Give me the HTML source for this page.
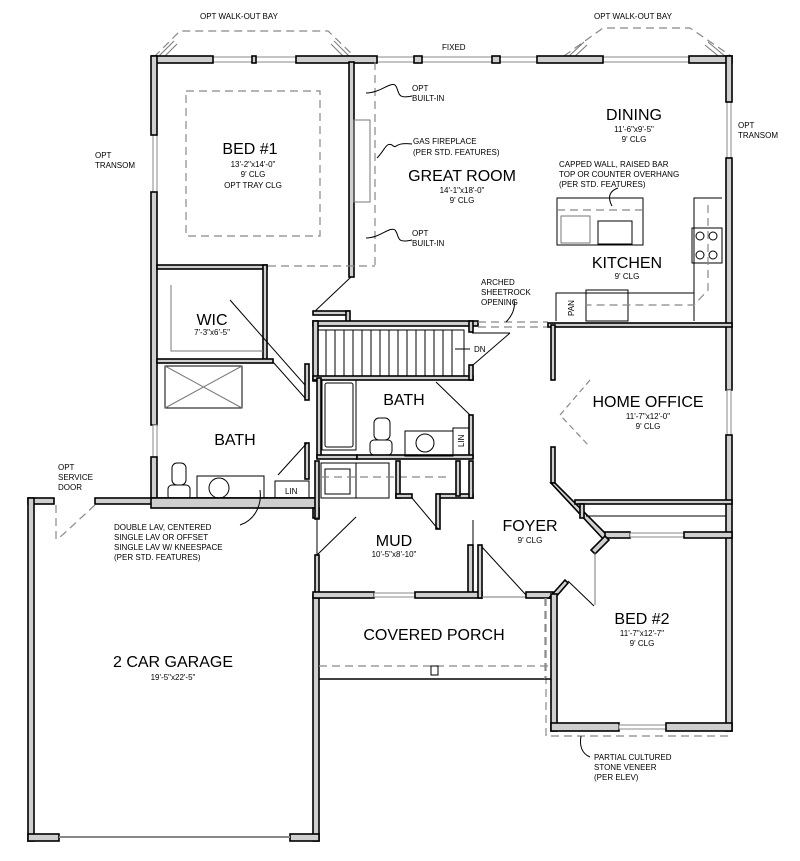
<!DOCTYPE html>
<html><head><meta charset="utf-8"><style>
html,body{margin:0;padding:0;background:#fff;}
svg{display:block;}
text{font-family:"Liberation Sans",sans-serif;fill:#000;}
.w{fill:#cfcfcf;stroke:#000;stroke-width:1.6;}
.d{fill:none;stroke:#888;stroke-width:1.2;stroke-dasharray:8,5;}
.t{fill:none;stroke:#000;stroke-width:1;}
.g{fill:none;stroke:#777;stroke-width:1;}
.win{fill:#fff;stroke:#888;stroke-width:1;}
.L{font-size:16px;}
.s{font-size:8px;}
.n{font-size:8px;}
</style></head><body>
<svg width="800" height="861" viewBox="0 0 800 861" xmlns="http://www.w3.org/2000/svg">
<!-- bays -->
<polyline class="d" points="154,57 180,31 328,31 354,56"/>
<polyline class="d" points="564,56 603,28 690,28 731,56"/>
<g class="g"><line x1="158" y1="57" x2="174" y2="41"/><line x1="162" y1="59" x2="177" y2="44"/><line x1="334" y1="41" x2="350" y2="57"/><line x1="331" y1="44" x2="346" y2="59"/>
<line x1="568" y1="57" x2="584" y2="42"/><line x1="572" y1="59" x2="587" y2="45"/><line x1="708" y1="42" x2="726" y2="57"/><line x1="705" y1="45" x2="722" y2="59"/></g>
<text class="n" x="200" y="19">OPT WALK-OUT BAY</text>
<text class="n" x="594" y="19">OPT WALK-OUT BAY</text>
<text class="n" x="442" y="50">FIXED</text>
<!-- top windows -->
<rect class="win" x="153" y="57" width="579" height="5"/>
<rect class="w" x="152" y="56" width="61" height="7"/>
<rect class="w" x="252" y="56" width="4" height="7"/>
<rect class="w" x="296" y="56" width="81" height="7"/>
<rect class="w" x="414" y="56" width="8" height="7"/>
<rect class="w" x="492" y="56" width="8" height="7"/>
<rect class="w" x="537" y="56" width="66" height="7"/>
<rect class="w" x="689" y="56" width="43" height="7"/>
<!-- left wall -->
<rect class="win" x="153" y="130" width="4" height="65"/>
<rect class="w" x="151" y="56" width="6" height="79"/>
<rect class="w" x="151" y="192" width="6" height="233"/>
<rect class="win" x="153" y="425" width="4" height="33"/>
<rect class="w" x="151" y="457" width="6" height="45"/>
<!-- right wall -->
<rect class="win" x="727" y="100" width="4" height="60"/>
<rect class="w" x="726" y="56" width="6" height="46"/>
<rect class="w" x="726" y="158" width="6" height="232"/>
<rect class="win" x="727" y="390" width="4" height="45"/>
<rect class="w" x="726" y="435" width="6" height="296"/>
<!-- bed1/great room wall -->
<rect class="w" x="349" y="62" width="5" height="215"/>
<line class="t" x1="351" y1="277" x2="313" y2="313"/>
<rect class="w" x="313" y="311" width="36" height="4"/>
<rect class="w" x="346" y="311" width="4" height="12"/>
<line class="d" x1="375" y1="62" x2="375" y2="265"/>
<line class="d" x1="268" y1="266" x2="375" y2="266"/>
<rect class="g" x="354" y="120" width="16" height="82"/>
<rect x="186" y="91" width="134" height="145" class="d"/>
<!-- bed1 bottom / WIC -->
<rect class="w" x="157" y="265" width="110" height="4"/>
<rect class="w" x="263" y="265" width="4" height="97"/>
<rect class="w" x="157" y="359" width="116" height="4"/>
<polyline class="g" points="171,285 171,351 263,351"/>
<line class="t" x1="230" y1="300" x2="305" y2="385"/>
<line class="t" x1="273" y1="362" x2="305" y2="398"/>
<rect class="t" x="165" y="366" width="77" height="42"/>
<line class="g" x1="165" y1="366" x2="242" y2="408"/><line class="g" x1="242" y1="366" x2="165" y2="408"/>
<rect class="w" x="305" y="364" width="4" height="36"/>
<rect class="w" x="305" y="443" width="4" height="36"/>
<line class="t" x1="307" y1="443" x2="278" y2="475"/>
<rect class="t" x="197" y="476" width="67" height="24"/>
<circle class="t" cx="219" cy="488" r="10"/>
<rect class="t" x="172" y="463" width="14" height="22" rx="5"/>
<rect class="t" x="168" y="485" width="22" height="15" rx="4"/>
<rect class="t" x="275" y="481" width="34" height="19"/>
<text class="n" x="285" y="494">LIN</text>
<rect class="w" x="28" y="498" width="26" height="6"/>
<rect class="w" x="95" y="498" width="222" height="6"/>
<rect class="w" x="151" y="498" width="166" height="10"/>
<line class="d" x1="56" y1="505" x2="56" y2="540"/>
<line class="d" x1="95" y1="505" x2="57" y2="540"/>
<!-- garage -->
<rect class="w" x="28" y="498" width="6" height="343"/>
<rect class="w" x="313" y="595" width="6" height="246"/>
<rect class="w" x="313" y="508" width="6" height="10"/>
<rect class="w" x="28" y="834" width="31" height="7"/>
<rect class="w" x="290" y="834" width="29" height="7"/>
<line x1="59" y1="837" x2="290" y2="837" stroke="#888" stroke-width="2"/>
<!-- stairs -->
<rect class="w" x="313" y="321" width="165" height="5"/>
<rect class="w" x="313" y="321" width="5" height="60"/>
<rect class="w" x="313" y="376" width="160" height="4"/>
<rect class="w" x="469" y="321" width="4" height="11"/>
<rect class="w" x="469" y="365" width="4" height="15"/>
<g class="t">
<rect x="318" y="330" width="146" height="46"/>
<line x1="326" y1="330" x2="326" y2="376"/><line x1="335" y1="330" x2="335" y2="376"/><line x1="344" y1="330" x2="344" y2="376"/><line x1="353" y1="330" x2="353" y2="376"/><line x1="362" y1="330" x2="362" y2="376"/><line x1="371" y1="330" x2="371" y2="376"/><line x1="380" y1="330" x2="380" y2="376"/><line x1="389" y1="330" x2="389" y2="376"/><line x1="398" y1="330" x2="398" y2="376"/><line x1="407" y1="330" x2="407" y2="376"/><line x1="416" y1="330" x2="416" y2="376"/><line x1="425" y1="330" x2="425" y2="376"/><line x1="434" y1="330" x2="434" y2="376"/><line x1="443" y1="330" x2="443" y2="376"/><line x1="452" y1="330" x2="452" y2="376"/>
<line x1="455" y1="349" x2="470" y2="349"/>
<line x1="472" y1="333" x2="510" y2="333"/>
<line x1="473" y1="365" x2="510" y2="333"/>
</g>
<text class="n" x="474" y="352">DN</text>
<line class="d" x1="478" y1="322" x2="548" y2="322"/>
<line class="d" x1="478" y1="327" x2="548" y2="327"/>
<!-- bath2 -->
<rect class="w" x="317" y="378" width="4" height="80"/>
<rect class="w" x="469" y="415" width="4" height="43"/>
<line class="t" x1="436" y1="382" x2="470" y2="415"/>
<rect class="t" x="322" y="380" width="34" height="70"/>
<rect class="t" x="325" y="383" width="28" height="64" rx="2"/>
<rect class="w" x="317" y="455" width="40" height="4"/>
<rect class="w" x="357" y="455" width="116" height="4"/>
<rect class="t" x="405" y="431" width="48" height="25"/>
<circle class="t" cx="425" cy="443" r="9"/>
<rect class="t" x="453" y="428" width="16" height="27"/>
<text class="n" x="0" y="0" transform="translate(464,447) rotate(-90)">LIN</text>
<rect class="t" x="374" y="418" width="16" height="22" rx="5"/>
<rect class="t" x="370" y="440" width="22" height="15" rx="4"/>
<!-- mud -->
<rect class="w" x="315" y="461" width="4" height="58"/>
<rect class="w" x="315" y="555" width="4" height="43"/>
<line class="t" x1="317" y1="555" x2="356" y2="517"/>
<line class="t" x1="317" y1="517" x2="317" y2="555"/>
<rect class="t" x="321" y="463" width="68" height="35"/>
<line class="t" x1="356" y1="463" x2="356" y2="498"/>
<rect class="t" x="325" y="469" width="25" height="25"/>
<line class="d" x1="321" y1="477" x2="450" y2="477"/>
<rect class="w" x="396" y="461" width="4" height="37"/>
<rect class="w" x="396" y="494" width="16" height="4"/>
<rect class="w" x="437" y="494" width="36" height="4"/>
<rect class="w" x="436" y="494" width="4" height="35"/>
<rect class="w" x="456" y="461" width="4" height="35"/>
<rect class="w" x="469" y="461" width="4" height="37"/>
<line class="t" x1="412" y1="498" x2="438" y2="529"/>
<line class="t" x1="473" y1="520" x2="473" y2="587"/>
<rect class="w" x="468" y="545" width="5" height="52"/>
<rect class="w" x="313" y="592" width="61" height="6"/>
<rect class="win" x="374" y="593" width="41" height="4"/>
<rect class="w" x="415" y="592" width="67" height="6"/>
<rect class="w" x="478" y="545" width="4" height="53"/>
<line class="t" x1="482" y1="547" x2="526" y2="595"/>
<line class="g" x1="482" y1="597" x2="526" y2="597"/>
<rect class="w" x="526" y="592" width="27" height="6"/>
<!-- home office -->
<rect class="w" x="548" y="323" width="184" height="4"/>
<rect class="w" x="551" y="325" width="4" height="55"/>
<rect class="w" x="551" y="447" width="4" height="36"/>
<polyline class="d" points="590,380 560,415 590,447" style="stroke-dasharray:6,4"/>
<polygon class="w" points="551,483 555,483 609,537 605,541"/>
<rect class="w" x="575" y="500" width="157" height="4"/>
<rect class="w" x="580" y="504" width="4" height="14"/>
<line class="t" x1="586" y1="516" x2="726" y2="516"/>
<rect class="w" x="605" y="532" width="25" height="6"/>
<rect class="win" x="630" y="533" width="54" height="4"/>
<rect class="w" x="684" y="532" width="48" height="6"/>
<polygon class="w" points="605,536 609,540 595,554 591,550"/>
<line class="g" x1="595" y1="552" x2="595" y2="605"/>
<polygon class="w" points="549,598 555,598 568,583 565,580"/>
<line class="t" x1="568" y1="581" x2="594" y2="606"/>
<!-- bed2 -->
<rect class="w" x="551" y="594" width="6" height="137"/>
<rect class="w" x="551" y="723" width="68" height="8"/>
<rect class="win" x="619" y="725" width="47" height="4"/>
<rect class="w" x="666" y="723" width="66" height="8"/>
<polyline class="d" points="546,598 546,736 733,736"/>
<!-- porch -->
<line class="d" x1="319" y1="666" x2="549" y2="666"/>
<line x1="319" y1="679" x2="551" y2="679" stroke="#000" stroke-width="1.5"/>
<line class="d" x1="545" y1="598" x2="545" y2="679"/>
<rect class="t" x="431" y="666" width="7" height="9"/>
<!-- kitchen -->
<rect class="t" x="557" y="198" width="86" height="47"/>
<line class="d" x1="557" y1="210" x2="643" y2="210"/>
<rect class="g" x="561" y="216" width="29" height="27"/>
<rect class="t" x="598" y="221" width="34" height="23"/>
<polyline class="t" points="694,321 694,198 722,198"/>
<polyline class="t" points="556,321 556,293 694,293"/>
<rect class="t" x="692" y="228" width="30" height="35"/>
<circle class="t" cx="700" cy="236" r="4"/><circle class="t" cx="713" cy="236" r="4"/>
<circle class="t" cx="700" cy="255" r="4"/><circle class="t" cx="713" cy="255" r="4"/>
<line class="t" x1="586" y1="293" x2="586" y2="321"/>
<rect class="t" x="586" y="290" width="42" height="31"/>
<text class="n" x="0" y="0" transform="translate(574,316) rotate(-90)">PAN</text>
<polyline class="d" points="708,205 708,290 694,305 586,305"/>
<!-- leaders -->
<g class="t">
<path d="M366,93 C380,93 390,82 395,85 C400,90 395,100 412,96" />
<path d="M366,238 C380,238 390,226 395,230 C400,236 395,244 412,240" />
<path d="M377,158 C385,150 386,142 392,145 C398,150 392,142 412,144" />
<path d="M612,206 C606,195 612,190 618,188" />
<path d="M514,300 C516,310 510,318 506,322" />
<path d="M260,490 C262,505 255,520 240,525" />
<path d="M581,736 C579,748 583,754 590,757" />
</g>
<!-- labels -->
<text class="n" x="412" y="91">OPT</text><text class="n" x="412" y="101">BUILT-IN</text>
<text class="n" x="412" y="236">OPT</text><text class="n" x="412" y="246">BUILT-IN</text>
<text class="n" x="413" y="144">GAS FIREPLACE</text><text class="n" x="413" y="155">(PER STD. FEATURES)</text>
<text class="L" x="250" y="154" text-anchor="middle">BED #1</text>
<text class="s" x="253" y="167" text-anchor="middle">13'-2"x14'-0"</text>
<text class="s" x="253" y="177" text-anchor="middle">9' CLG</text>
<text class="s" x="253" y="188" text-anchor="middle">OPT TRAY CLG</text>
<text class="L" x="462" y="181" text-anchor="middle">GREAT ROOM</text>
<text class="s" x="462" y="193" text-anchor="middle">14'-1"x18'-0"</text>
<text class="s" x="462" y="203" text-anchor="middle">9' CLG</text>
<text class="L" x="634" y="120" text-anchor="middle">DINING</text>
<text class="s" x="634" y="132" text-anchor="middle">11'-6"x9'-5"</text>
<text class="s" x="634" y="142" text-anchor="middle">9' CLG</text>
<text class="n" x="559" y="167">CAPPED WALL, RAISED BAR</text>
<text class="n" x="559" y="177">TOP OR COUNTER OVERHANG</text>
<text class="n" x="559" y="187">(PER STD. FEATURES)</text>
<text class="L" x="627" y="268" text-anchor="middle">KITCHEN</text>
<text class="s" x="627" y="279" text-anchor="middle">9' CLG</text>
<text class="n" x="481" y="285">ARCHED</text><text class="n" x="481" y="295">SHEETROCK</text><text class="n" x="481" y="305">OPENING</text>
<text class="n" x="738" y="128">OPT</text><text class="n" x="738" y="138">TRANSOM</text>
<text class="n" x="95" y="158">OPT</text><text class="n" x="95" y="168">TRANSOM</text>
<text class="L" x="212" y="325" text-anchor="middle">WIC</text>
<text class="s" x="212" y="335" text-anchor="middle">7'-3"x6'-5"</text>
<text class="L" x="404" y="405" text-anchor="middle">BATH</text>
<text class="L" x="235" y="445" text-anchor="middle">BATH</text>
<text class="L" x="648" y="407" text-anchor="middle">HOME OFFICE</text>
<text class="s" x="648" y="419" text-anchor="middle">11'-7"x12'-0"</text>
<text class="s" x="648" y="429" text-anchor="middle">9' CLG</text>
<text class="n" x="58" y="470">OPT</text><text class="n" x="58" y="480">SERVICE</text><text class="n" x="58" y="490">DOOR</text>
<text class="n" x="114" y="530">DOUBLE LAV, CENTERED</text>
<text class="n" x="114" y="540">SINGLE LAV OR OFFSET</text>
<text class="n" x="114" y="550">SINGLE LAV W/ KNEESPACE</text>
<text class="n" x="114" y="560">(PER STD. FEATURES)</text>
<text class="L" x="394" y="546" text-anchor="middle">MUD</text>
<text class="s" x="394" y="557" text-anchor="middle">10'-5"x8'-10"</text>
<text class="L" x="530" y="531" text-anchor="middle">FOYER</text>
<text class="s" x="530" y="543" text-anchor="middle">9' CLG</text>
<text class="L" x="434" y="640" text-anchor="middle">COVERED PORCH</text>
<text class="L" x="642" y="624" text-anchor="middle">BED #2</text>
<text class="s" x="642" y="636" text-anchor="middle">11'-7"x12'-7"</text>
<text class="s" x="642" y="646" text-anchor="middle">9' CLG</text>
<text class="L" x="173" y="667" text-anchor="middle">2 CAR GARAGE</text>
<text class="s" x="173" y="680" text-anchor="middle">19'-5"x22'-5"</text>
<text class="n" x="594" y="760">PARTIAL CULTURED</text>
<text class="n" x="594" y="770">STONE VENEER</text>
<text class="n" x="594" y="780">(PER ELEV)</text>
</svg>
</body></html>
